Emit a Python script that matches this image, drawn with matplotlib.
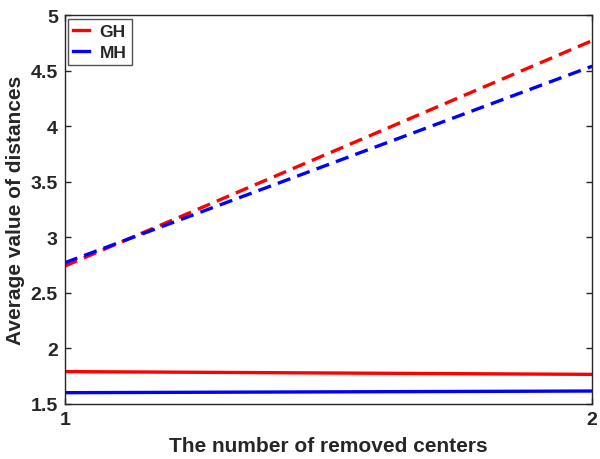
import matplotlib
matplotlib.use("Agg")
import matplotlib.pyplot as plt

plt.rcParams["font.family"] = ["Liberation Sans", "DejaVu Sans"]
plt.rcParams["font.weight"] = "bold"
plt.rcParams["text.color"] = "#262626"

removed = [1, 2]
gh_dashed = [2.74, 4.77]
mh_dashed = [2.77, 4.54]
gh_solid = [1.79, 1.765]
mh_solid = [1.60, 1.615]

fig = plt.figure(figsize=(6, 4.6), dpi=100)
ax = fig.add_axes([0.108, 0.12, 0.879, 0.845])

ax.plot(removed, gh_dashed, color="red", ls="--", lw=2.4, dashes=(4, 2.2), label="GH")
ax.plot(removed, mh_dashed, color="blue", ls="--", lw=2.4, dashes=(4, 2.2), label="MH")
ax.plot(removed, gh_solid, color="red", lw=2.4)
ax.plot(removed, mh_solid, color="blue", lw=2.4)

ax.set_xlim(1, 2)
ax.set_ylim(1.5, 5)
ax.set_xticks([1, 2])
ax.set_yticks([1.5, 2, 2.5, 3, 3.5, 4, 4.5, 5])
ax.set_yticklabels(["1.5", "2", "2.5", "3", "3.5", "4", "4.5", "5"])
ax.tick_params(direction="in", top=True, right=True, labelsize=14, width=1, length=4,
               colors="#262626", pad=5)
for lab in ax.get_xticklabels() + ax.get_yticklabels():
    lab.set_fontweight("bold")
for s in ax.spines.values():
    s.set_color("#262626")
    s.set_linewidth(1)

ax.set_xlabel("The number of removed centers", fontsize=15, fontweight="bold", labelpad=6,
              color="#262626")
ax.set_ylabel("Average value of distances", fontsize=15, fontweight="bold", labelpad=4,
              color="#262626")

leg = ax.legend(loc="upper left", fontsize=12.5, handlelength=0.9, handletextpad=0.6,
                borderpad=0.3, labelspacing=0.35, fancybox=False, borderaxespad=0.2)
leg.get_frame().set_edgecolor("#262626")
leg.get_frame().set_linewidth(1)
for h in leg.get_lines():
    h.set_linestyle("-")
for t in leg.get_texts():
    t.set_fontweight("bold")

fig.savefig("out.png")
